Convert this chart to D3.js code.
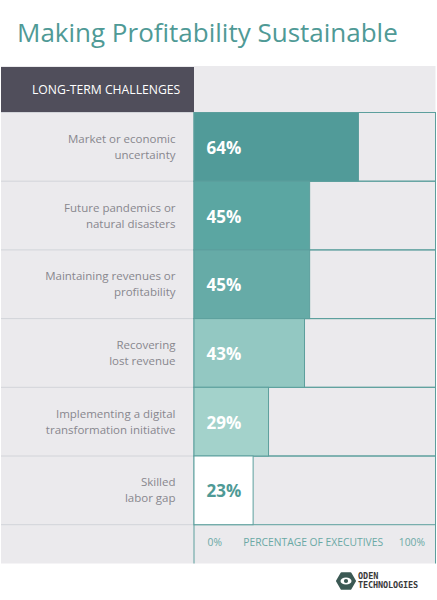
<!DOCTYPE html>
<html>
<head>
<meta charset="utf-8">
<script src="https://cdn.jsdelivr.net/npm/d3@7"></script>
<style>
  body { margin: 0; background: #fff; }
  svg { display: block; font-family: "Open Sans", sans-serif; }
</style>
</head>
<body>
<div id="chart"></div>
<script>
// Long-term challenges, share of executives (%)
const categories = [
    ['Market or economic', 'uncertainty'],
    ['Future pandemics or', 'natural disasters'],
    ['Maintaining revenues or', 'profitability'],
    ['Recovering', 'lost revenue'],
    ['Implementing a digital', 'transformation initiative'],
    ['Skilled', 'labor gap']
];
const values = [64, 45, 45, 43, 29, 23];
const barColors = ['#519b99', '#5ba6a2', '#66aba7', '#93c8c2', '#a3d2cb', '#ffffff'];
const tickLabels = ['0%', '100%'];
const axisTitle = 'PERCENTAGE OF EXECUTIVES';

const W = 437, H = 600;
const teal = '#4f9a96';

const svg = d3.select('#chart').append('svg')
    .attr('width', W)
    .attr('height', H);

// Title
svg.append('text')
    .attr('x', 17)
    .attr('y', 42)
    .style('font-size', '26px')
    .style('fill', teal)
    .text('Making Profitability Sustainable');

// Panel background
const panel = { left: 1, right: 435.5, top: 66, bottom: 563.5 };
svg.append('rect')
    .attr('x', panel.left)
    .attr('y', panel.top)
    .attr('width', panel.right - panel.left)
    .attr('height', panel.bottom - panel.top)
    .attr('fill', '#ebeaed');

// Header box
svg.append('rect')
    .attr('x', panel.left)
    .attr('y', panel.top + 1)
    .attr('width', 194 - panel.left)
    .attr('height', 112.5 - panel.top - 1)
    .attr('fill', '#504e5b');

svg.append('text')
    .attr('x', 32)
    .attr('y', 90)
    .attr('dy', '0.35em')
    .style('font-size', '12.2px')
    .style('fill', '#fff')
    .text('LONG-TERM CHALLENGES');

// Scales
const y = d3.scaleBand()
    .domain(d3.range(categories.length))
    .range([112.5, 524.7])
    .padding(0);

const x = d3.scaleLinear()
    .domain([0, 100])
    .range([194, 451]);

// Left column separators
svg.selectAll('.sep')
    .data(d3.range(categories.length + 1))
    .enter().append('line')
    .attr('class', 'sep')
    .attr('x1', panel.left)
    .attr('x2', x(0))
    .attr('y1', i => i < categories.length ? y(i) : y.range()[1])
    .attr('y2', i => i < categories.length ? y(i) : y.range()[1])
    .attr('stroke', '#d2d4d9')
    .attr('stroke-width', 1);

// Row cells (outlined)
svg.selectAll('.cell')
    .data(values)
    .enter().append('rect')
    .attr('class', 'cell')
    .attr('x', x(0))
    .attr('y', (d, i) => y(i))
    .attr('width', panel.right - x(0))
    .attr('height', y.bandwidth())
    .attr('fill', 'none')
    .attr('stroke', '#5c9f9d')
    .attr('stroke-width', 1);

// Bars
svg.selectAll('.bar')
    .data(values)
    .enter().append('rect')
    .attr('class', 'bar')
    .attr('x', x(0))
    .attr('y', (d, i) => y(i))
    .attr('width', d => x(d) - x(0))
    .attr('height', y.bandwidth())
    .attr('fill', (d, i) => barColors[i])
    .attr('stroke', '#5c9f9d')
    .attr('stroke-width', 1);

// Value labels
svg.selectAll('.val')
    .data(values)
    .enter().append('text')
    .attr('class', 'val')
    .attr('x', x(0) + 12.5)
    .attr('y', (d, i) => y(i) + y.bandwidth() / 2 + 1)
    .attr('dy', '0.35em')
    .style('font-size', '17px')
    .style('font-weight', 700)
    .style('fill', (d, i) => barColors[i] === '#ffffff' ? teal : '#fff')
    .text(d => d + '%');

// Category labels
const labels = svg.selectAll('.cat')
    .data(categories)
    .enter().append('text')
    .attr('class', 'cat')
    .attr('text-anchor', 'end')
    .style('font-size', '11.5px')
    .style('fill', '#88878d');

labels.selectAll('tspan')
    .data((d, i) => d.map((line, j) => ({ line, j, i, n: d.length })))
    .enter().append('tspan')
    .attr('x', 175.5)
    .attr('y', d => y(d.i) + y.bandwidth() / 2 + (d.j - (d.n - 1) / 2) * 16)
    .attr('dy', '0.35em')
    .text(d => d.line);

// Footer row
const footY = 542;
svg.append('line')
    .attr('x1', x(0)).attr('x2', x(0))
    .attr('y1', y.range()[1]).attr('y2', panel.bottom)
    .attr('stroke', '#5c9f9d');
svg.append('line')
    .attr('x1', panel.right).attr('x2', panel.right)
    .attr('y1', y.range()[1]).attr('y2', panel.bottom)
    .attr('stroke', '#5c9f9d');

const footStyle = sel => sel
    .attr('y', footY)
    .attr('dy', '0.35em')
    .style('font-size', '10.3px')
    .style('fill', '#6aa9a5');

svg.append('text').attr('x', 207.5).call(footStyle).text(tickLabels[0]);
svg.append('text').attr('x', 243.3).call(footStyle).text(axisTitle);
svg.append('text').attr('x', 425).attr('text-anchor', 'end').call(footStyle).text(tickLabels[1]);

// Logo
const logo = svg.append('g').attr('transform', 'translate(346,581)');
const hex = d3.range(6).map(k => {
    const a = Math.PI / 3 * k;
    return [9 * Math.cos(a), 9 * Math.sin(a)];
});
logo.append('path')
    .attr('d', d3.line().curve(d3.curveLinearClosed)(hex))
    .attr('fill', '#3b5954')
    .attr('stroke', '#3b5954')
    .attr('stroke-width', 2)
    .attr('stroke-linejoin', 'round');
logo.append('ellipse')
    .attr('rx', 5.5).attr('ry', 3.6)
    .attr('fill', '#fff');
logo.append('circle')
    .attr('r', 2.1)
    .attr('fill', '#3b5954');

svg.append('text')
    .attr('x', 358)
    .attr('y', 578.5)
    .style('font-family', '"DejaVu Sans Mono", monospace')
    .style('font-size', '8.5px')
    .style('font-weight', 700)
    .style('fill', '#3a3a3a')
    .text('ODEN');
svg.append('text')
    .attr('x', 358)
    .attr('y', 587.5)
    .attr('textLength', 60)
    .style('font-family', '"DejaVu Sans Mono", monospace')
    .style('font-size', '8.5px')
    .style('font-weight', 700)
    .style('fill', '#3a3a3a')
    .text('TECHNOLOGIES');
</script>
</body>
</html>
